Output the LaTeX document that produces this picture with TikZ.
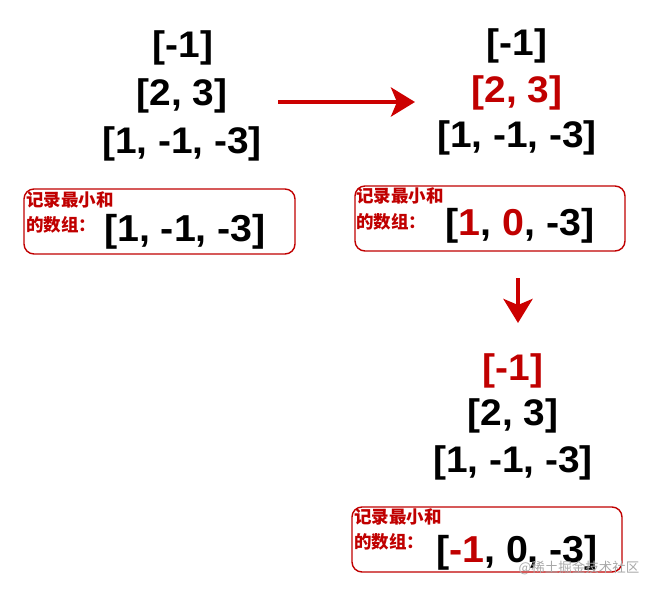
\documentclass[tikz,border=0pt]{standalone}
\usepackage{fontspec}
\setmainfont{Liberation Sans}
\newfontfamily\widefont[FakeStretch=1.05]{Liberation Sans}
\newfontfamily\cjk{Noto Sans CJK SC}
\usetikzlibrary{arrows.meta}
\definecolor{dred}{HTML}{C00000}
\definecolor{ared}{HTML}{CC0000}
\definecolor{wmgray}{HTML}{A8A8A8}
\tikzset{
  arr/.style={inner sep=0pt, font=\widefont\fontsize{37}{37}\selectfont\bfseries},
  boxarr/.style={inner sep=0pt, font=\widefont\fontsize{37.5}{37.5}\selectfont\bfseries},
  lbl/.style={inner sep=0pt, anchor=west, text=dred, font=\cjk\fontsize{17.5}{17.5}\selectfont\bfseries},
  recbox/.style={draw=dred, line width=1.4pt, rounded corners=10pt},
  bigarrow/.style={draw=ared, line width=4.5pt, -{Stealth[length=24pt,width=29pt,inset=6pt]}},
  hl/.style={text=dred}
}
\begin{document}
\begin{tikzpicture}[x=1pt,y=-1pt]
\useasboundingbox (0,0) rectangle (657,592);
% left column
\node[arr] (l1) at (183,48) {[-1]};
\node[arr] (l2) at (182,96) {[2, 3]};
\node[arr] (l3) at (182,144) {[1, -1, -3]};
\draw[recbox] (24,189) rectangle (295,254);
\node[lbl] (lb1) at (26,200) {记录最小和};
\node[lbl] (lb2) at (26,225) {的数组：};
\node[boxarr] (lv) at (185,232) {[1, -1, -3]};
% right column
\node[arr] (r1) at (517,46) {[-1]};
\node[arr, hl] (r2) at (517,93) {[2, 3]};
\node[arr] (r3) at (517,138) {[1, -1, -3]};
\draw[recbox] (355,186) rectangle (625,251);
\node[lbl] (rb1) at (356,196) {记录最小和};
\node[lbl] (rb2) at (356,222) {的数组：};
\node[boxarr] (rv) at (520,226) {[{\color{dred}1}, {\color{dred}0}, -3]};
% bottom column
\node[arr, hl] (b1) at (513,371) {[-1]};
\node[arr] (b2) at (513,416) {[2, 3]};
\node[arr] (b3) at (513,463) {[1, -1, -3]};
\draw[recbox] (352,507) rectangle (622,572);
\node[lbl] (bb1) at (354,517) {记录最小和};
\node[lbl] (bb2) at (354,542) {的数组：};
\node[boxarr] (bv) at (517,553) {[{\color{dred}-1}, 0, -3]};
% arrows
\coordinate (a1s) at (278,102);
\coordinate (a1e) at (415,102);
\draw[bigarrow] (a1s) -- (a1e);
\coordinate (a2s) at (518,278);
\coordinate (a2e) at (518,323);
\draw[bigarrow] (a2s) -- (a2e);
% watermark
\node[inner sep=0pt, text=wmgray, font=\cjk\fontsize{13.5}{13.5}\selectfont] (wm) at (579,568) {@稀土掘金技术社区};
\end{tikzpicture}
\end{document}
